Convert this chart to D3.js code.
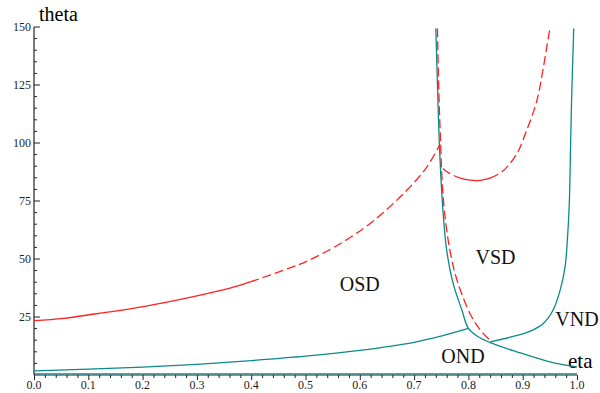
<!DOCTYPE html>
<html>
<head>
<meta charset="utf-8">
<script src="https://cdn.jsdelivr.net/npm/d3@7"></script>
<style>
  body { margin: 0; background: #fff; }
  svg text { font-family: "Liberation Serif", "DejaVu Serif", serif; }
</style>
</head>
<body>
<div class="canvas"></div>
<script>
// chart size and axis placement
const width = 600;
const height = 393;
const marginLeft = 34;
const marginRight = 23;
const marginTop = 27;
const marginBottom = 18;

const red = "#ff2020";
const teal = "#0b8a8a";

// tick values
const xTicks = [0.0, 0.1, 0.2, 0.3, 0.4, 0.5, 0.6, 0.7, 0.8, 0.9, 1.0];
const yTicks = [25, 50, 75, 100, 125, 150];

// red curves [eta, theta]
const redLeft = [[0.0, 23.4], [0.054, 24.4], [0.115, 26.4], [0.177, 28.5], [0.238, 31.1],
  [0.30, 34.1], [0.361, 37.4], [0.398, 40.1], [0.459, 45.1], [0.502, 49.0], [0.564, 56.6],
  [0.625, 66.4], [0.686, 79.5], [0.723, 89.5], [0.748, 99.6]];
const redSteep = [[0.743, 149.4], [0.745, 127], [0.748, 105.3], [0.754, 75.2], [0.766, 53.7],
  [0.781, 39.4], [0.806, 25.1], [0.825, 18.5], [0.843, 14.3]];
const redU = [[0.753, 89.0], [0.765, 86.9], [0.781, 85.2], [0.800, 84.1], [0.818, 83.8],
  [0.840, 84.9], [0.862, 87.6], [0.889, 95.3], [0.907, 105.3], [0.926, 118.2],
  [0.938, 132.5], [0.950, 149.4]];

// teal curves [eta, theta]
const tealLow = [[0.0, 1.8], [0.1, 2.5], [0.2, 3.4], [0.3, 4.6], [0.4, 6.2], [0.5, 8.1],
  [0.6, 10.6], [0.7, 14.1], [0.75, 16.8], [0.8, 20.1]];
const tealSteep = [[0.740, 149.4], [0.745, 109.6], [0.747, 96.7], [0.750, 82.4], [0.754, 68.1],
  [0.760, 53.7], [0.772, 39.4], [0.788, 28.0], [0.800, 20.1], [0.818, 16.5], [0.843, 13.7],
  [0.889, 10.0], [0.950, 5.7], [1.0, 3.5]];
const tealRight = [[0.840, 14.3], [0.877, 16.3], [0.913, 18.8], [0.938, 22.2], [0.956, 28.0],
  [0.969, 36.6], [0.978, 46.6], [0.983, 60.9], [0.986, 75.2], [0.988, 96.7], [0.990, 118.2],
  [0.994, 149.4]];
const tealZero = [[0.0, 0.5], [1.0, 0.5]];

// region labels
const regions = [
  { name: "OSD", eta: 0.6, theta: 36 },
  { name: "VSD", eta: 0.85, theta: 48 },
  { name: "VND", eta: 1.0, theta: 21 },
  { name: "OND", eta: 0.79, theta: 5 }
];

const x = d3.scaleLinear().domain([0, 1]).range([marginLeft, width - marginRight]);
const y = d3.scaleLinear().domain([0, 150]).range([height - marginBottom, marginTop]);

const svg = d3.select(".canvas").append("svg")
  .attr("width", width)
  .attr("height", height);

const axisColor = "#222";

// x axis (ticks point down)
const gx = svg.append("g").attr("transform", `translate(0, ${y(0)})`);
gx.append("line").attr("x1", x(0)).attr("x2", x(1)).attr("stroke", axisColor);
gx.selectAll(".minor").data(d3.range(0, 51).map(i => i / 50))
  .join("line")
  .attr("x1", d => x(d) + 0.5).attr("x2", d => x(d) + 0.5)
  .attr("y1", 0).attr("y2", (d, i) => i % 5 === 0 ? 5 : 3)
  .attr("stroke", axisColor);
gx.selectAll("text").data(xTicks).join("text")
  .attr("x", d => x(d))
  .attr("y", 14)
  .attr("text-anchor", "middle")
  .attr("font-size", 12)
  .attr("fill", "#222")
  .text(d => d.toFixed(1));

// y axis (ticks point right)
const gy = svg.append("g").attr("transform", `translate(${x(0)}, 0)`);
gy.append("line").attr("y1", y(0)).attr("y2", y(150)).attr("stroke", axisColor).attr("stroke-width", 1.2);
gy.selectAll(".minor").data(d3.range(1, 31).map(i => i * 5))
  .join("line")
  .attr("y1", d => y(d)).attr("y2", d => y(d))
  .attr("x1", 0).attr("x2", d => d % 25 === 0 ? 6 : 3)
  .attr("stroke", axisColor);
gy.selectAll("text").data(yTicks).join("text")
  .attr("x", -3)
  .attr("y", d => y(d) + 4)
  .attr("text-anchor", "end")
  .attr("font-size", 12)
  .attr("fill", "#222")
  .text(d => d);

svg.append("text").attr("x", 39).attr("y", 21).attr("font-size", 20).text("theta");
svg.append("text").attr("x", 568).attr("y", 368).attr("font-size", 21).text("eta");

const line = d3.line()
  .x(d => x(d[0]))
  .y(d => y(d[1]))
  .curve(d3.curveCatmullRom.alpha(0.5));

function drawSolid(pts, color) {
  svg.append("path")
    .attr("d", line(pts))
    .attr("fill", "none")
    .attr("stroke", color)
    .attr("stroke-width", 1.3);
}

// Mathematica dashes restart per sample, so flat parts look solid
function drawDashed(pts, color) {
  const runs = [];
  let cur = [pts[0]];
  let curSteep = null;
  for (let i = 1; i < pts.length; i++) {
    const dx = x(pts[i][0]) - x(pts[i - 1][0]);
    const dy = y(pts[i - 1][1]) - y(pts[i][1]);
    const steep = Math.abs(dy) > 0.33 * Math.abs(dx);
    if (curSteep !== null && steep !== curSteep) {
      runs.push({ steep: curSteep, pts: cur });
      cur = [pts[i - 1]];
    }
    curSteep = steep;
    cur.push(pts[i]);
  }
  runs.push({ steep: curSteep, pts: cur });
  runs.forEach(r => {
    svg.append("path")
      .attr("d", line(r.pts))
      .attr("fill", "none")
      .attr("stroke", color)
      .attr("stroke-width", 1.3)
      .attr("stroke-dasharray", r.steep ? "9,4" : null);
  });
}

drawSolid(tealZero, teal);
drawSolid(tealLow, teal);
drawSolid(tealSteep, teal);
drawSolid(tealRight, teal);
drawDashed(redLeft, red);
drawDashed(redU, red);
drawDashed(redSteep, red);

svg.selectAll(".region").data(regions).join("text")
  .attr("x", d => x(d.eta))
  .attr("y", d => y(d.theta))
  .attr("text-anchor", "middle")
  .attr("font-size", 20)
  .attr("fill", "#111")
  .text(d => d.name);
</script>
</body>
</html>
